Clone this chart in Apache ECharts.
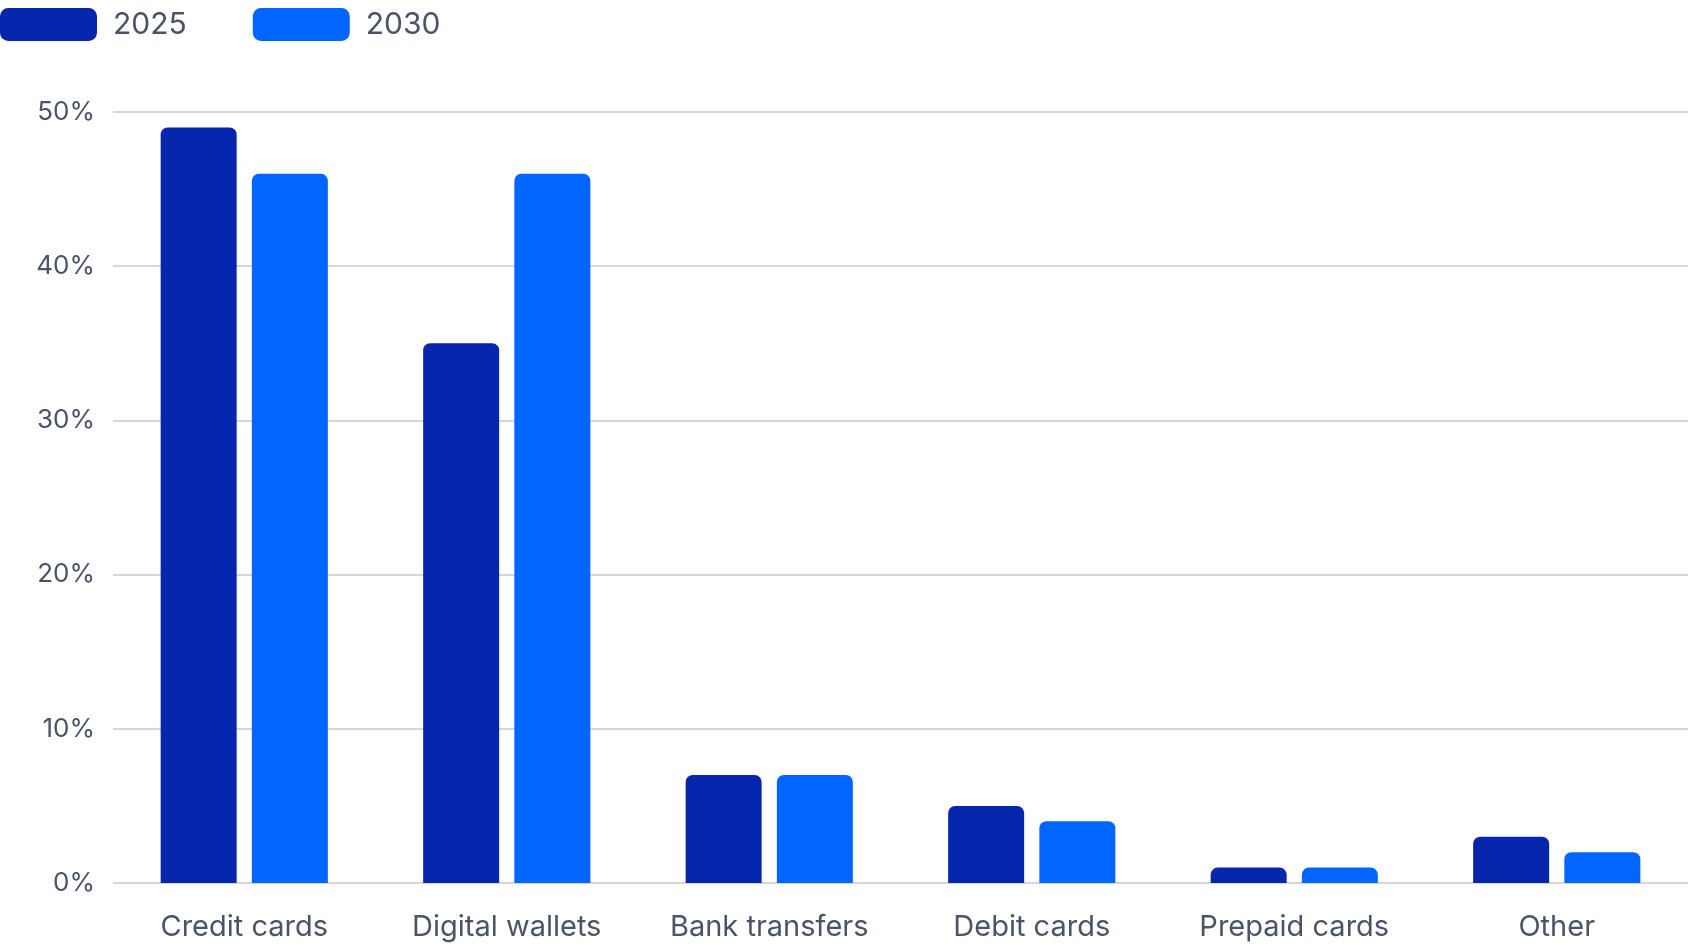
<!DOCTYPE html>
<html>
<head>
<meta charset="utf-8">
<script src="https://cdn.jsdelivr.net/npm/echarts@6/dist/echarts.min.js"></script>
<style>
  html, body { margin: 0; padding: 0; background: #fff; }
  #chart { width: 1688px; height: 948px; }
</style>
</head>
<body>
<div id="chart"></div>
<script>
// data
const categories = ['Credit cards', 'Digital wallets', 'Bank transfers', 'Debit cards', 'Prepaid cards', 'Other'];
const share2025 = [49, 35, 7, 5, 1, 3];
const share2030 = [46, 46, 7, 4, 1, 2];
const seriesNames = ['2025', '2030'];

const textColor = '#4a5468';
const gridColor = '#d4d5dd';
const fontFamily = 'Inter, "Noto Sans", sans-serif';

const chart = echarts.init(document.getElementById('chart'));

chart.setOption({
    animation: false,
    legend: {
        left: 0,
        top: 8,
        padding: 0,
        itemWidth: 97,
        itemHeight: 33,
        itemGap: 66,
        icon: 'roundRect',
        textStyle: {
            color: textColor,
            fontSize: 30,
            fontFamily: fontFamily,
            padding: [2, 0, 0, 11]
        }
    },
    grid: {
        left: 113,
        right: 0,
        top: 112,
        bottom: 65
    },
    xAxis: {
        type: 'category',
        data: categories,
        axisLine: { show: false },
        axisTick: { show: false },
        axisLabel: {
            color: textColor,
            fontSize: 29,
            fontFamily: fontFamily,
            margin: 30
        }
    },
    yAxis: {
        type: 'value',
        min: 0,
        max: 50,
        interval: 10,
        axisLabel: {
            formatter: '{value}%',
            color: textColor,
            fontSize: 26,
            fontFamily: fontFamily,
            margin: 18
        },
        splitLine: { lineStyle: { color: gridColor, width: 2 } }
    },
    series: [
        {
            name: seriesNames[0],
            type: 'bar',
            data: share2025,
            barWidth: 76,
            barGap: '20%',
            itemStyle: { color: '#0726ae', borderRadius: [7, 7, 0, 0] }
        },
        {
            name: seriesNames[1],
            type: 'bar',
            data: share2030,
            barWidth: 76,
            barGap: '20%',
            itemStyle: { color: '#0066ff', borderRadius: [7, 7, 0, 0] }
        }
    ]
});

window.addEventListener('resize', () => chart.resize());
</script>
</body>
</html>
